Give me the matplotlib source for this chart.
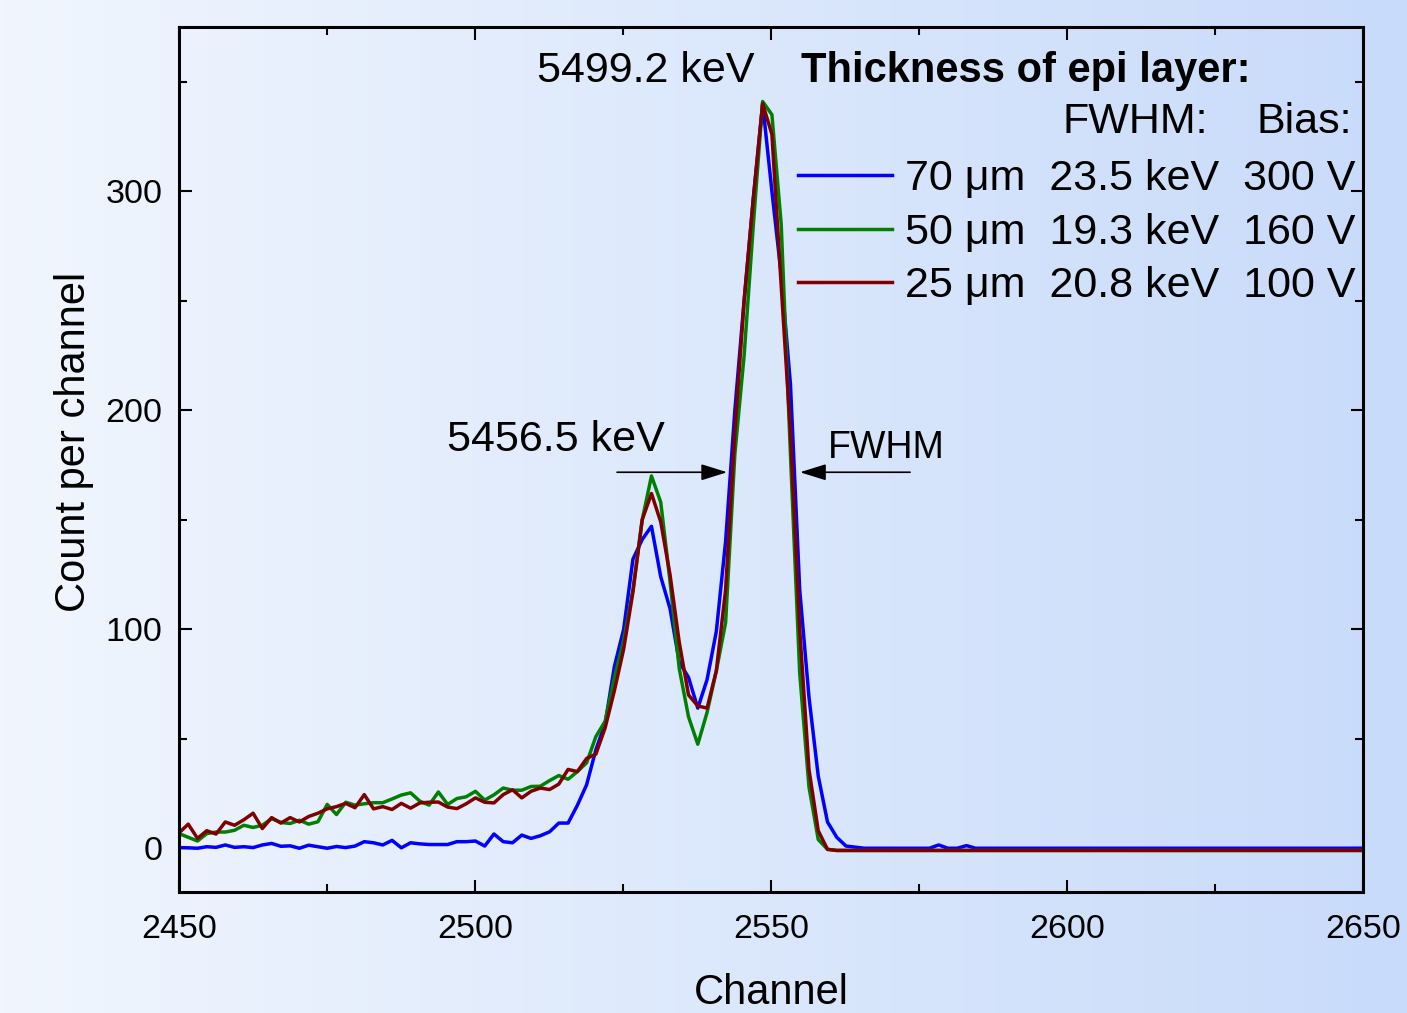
import numpy as np
import matplotlib
matplotlib.use("Agg")
import matplotlib.pyplot as plt
from matplotlib.ticker import MultipleLocator
from matplotlib.colors import LinearSegmentedColormap

plt.rcParams['font.family'] = ['Liberation Sans', 'DejaVu Sans']

# channel grid of the spectra
ch_start = 2450.0
ch_step = 1.565

# counts per channel
counts_70um = [
    0.3, 0.2, 0, 0.7, 0.4, 1.5, 0.4, 0.7, 0.3, 1.5,
    2.2, 0.9, 1.1, 0, 1.4, 0.7, 0, 0.8, 0.3, 1,
    3, 2.5, 1.5, 3.6, 0.2, 2.5, 2, 1.7, 1.7, 1.7,
    3, 3, 3.3, 1, 6.5, 3, 2.5, 6, 4.5, 5.7,
    7.5, 11.5, 11.5, 19.6, 29, 45, 57, 83, 100, 132,
    141, 147, 124, 109.5, 85, 78, 64, 77, 99, 140,
    200, 250, 297, 340, 300, 262, 212, 118, 69, 33,
    12, 5, 1, 0.5, 0, 0, 0, 0, 0, 0,
    0, 0, 1.5, 0, 0, 1.2, 0, 0, 0, 0,
    0, 0, 0, 0, 0, 0, 0, 0, 0, 0,
    0, 0, 0, 0, 0, 0, 0, 0, 0, 0,
    0, 0, 0, 0, 0, 0, 0, 0, 0, 0,
    0, 0, 0, 0, 0, 0, 0, 0, 0,
]
counts_50um = [
    6.7, 5, 3.3, 6.7, 7.4, 7.4, 8.2, 10.5, 9.5, 10.5,
    13.5, 11.8, 11.3, 12.8, 11, 12.1, 20, 15.4, 21, 19.7,
    20.3, 20.8, 20.8, 22.5, 24.3, 25.3, 21.5, 19.7, 25.7, 20,
    22.7, 23.5, 26, 22, 24.4, 27.5, 26.5, 26.5, 28.2, 28.3,
    30.9, 33.2, 31.5, 35, 39, 51, 58, 78, 95, 118,
    150, 170, 158, 122, 82, 60, 47.5, 62, 81, 103,
    180, 225, 285, 341, 335, 285, 180, 80, 28, 4,
    -0.5, -1, -1, -1, -1, -1, -1, -1, -1, -1,
    -1, -1, -1, -1, -1, -1, -1, -1, -1, -1,
    -1, -1, -1, -1, -1, -1, -1, -1, -1, -1,
    -1, -1, -1, -1, -1, -1, -1, -1, -1, -1,
    -1, -1, -1, -1, -1, -1, -1, -1, -1, -1,
    -1, -1, -1, -1, -1, -1, -1, -1, -1,
]
counts_25um = [
    7, 11, 4.5, 8, 6.5, 12, 10.5, 13, 16, 9,
    14, 11.5, 14, 12, 14.5, 16, 18, 19, 20.5, 18.5,
    24.5, 18, 19, 17.7, 20.5, 18.3, 20.7, 21, 21.1, 18.8,
    18.1, 20.3, 23, 21, 20.7, 24.5, 26.7, 23, 26, 27.5,
    26.8, 29.3, 36, 35, 41, 43, 55, 72, 91, 117,
    150, 162, 149, 125, 94, 70, 65, 64, 81, 118,
    190, 250, 297, 340, 326, 257, 190, 100, 36, 8,
    -0.5, -1, -1, -1, -1, -1, -1, -1, -1, -1,
    -1, -1, -1, -1, -1, -1, -1, -1, -1, -1,
    -1, -1, -1, -1, -1, -1, -1, -1, -1, -1,
    -1, -1, -1, -1, -1, -1, -1, -1, -1, -1,
    -1, -1, -1, -1, -1, -1, -1, -1, -1, -1,
    -1, -1, -1, -1, -1, -1, -1, -1, -1,
]

series = [counts_70um, counts_50um, counts_25um]
labels = ["70 \u03bcm  23.5 keV  300 V",
          "50 \u03bcm  19.3 keV  160 V",
          "25 \u03bcm  20.8 keV  100 V"]
colors = ["#0000ff", "#008000", "#800000"]

fig = plt.figure(figsize=(14.07, 10.13), dpi=100)

# gradient background
bg = fig.add_axes([0, 0, 1, 1])
grad = np.linspace(0, 1, 256).reshape(1, -1)
cmap = LinearSegmentedColormap.from_list("bg", ["#f1f6fe", "#c8dbfa"])
bg.imshow(grad, aspect='auto', cmap=cmap, extent=[0, 1, 0, 1])
bg.axis('off')

ax = fig.add_axes([0.1272, 0.1194, 0.8415, 0.8539])
ax.set_zorder(1)
ax.patch.set_visible(False)

for vals, c, lab in zip(series, colors, labels):
    ch = ch_start + ch_step * np.arange(len(vals))
    ax.plot(ch, vals, color=c, lw=2.5, label=lab)

ax.set_xlim(2450, 2650)
ax.set_ylim(-20, 375)
ax.xaxis.set_major_locator(MultipleLocator(50))
ax.xaxis.set_minor_locator(MultipleLocator(25))
ax.yaxis.set_major_locator(MultipleLocator(100))
ax.yaxis.set_minor_locator(MultipleLocator(50))
ax.tick_params(which='both', direction='in', top=True, right=True,
               labelsize=24.5, width=1.5)
ax.tick_params(which='major', length=9)
ax.tick_params(which='minor', length=5.5)
ax.tick_params(axis='x', pad=16)
ax.tick_params(axis='y', pad=12)
for sp in ax.spines.values():
    sp.set_linewidth(2.2)

ax.set_xlabel("Channel", fontsize=30, labelpad=20)
ax.set_ylabel("Count per channel", fontsize=30, labelpad=8)
ax.yaxis.label.set_y(0.52)

leg = ax.legend(loc='upper right', bbox_to_anchor=(0.994, 0.847),
                frameon=False, fontsize=31, handlelength=2.2,
                handletextpad=0.3, labelspacing=0.31, borderpad=0,
                borderaxespad=0)
for line in leg.get_lines():
    line.set_linewidth(2.5)

ax.text(2555, 355, "Thickness of epi layer:", fontsize=30,
        fontweight='bold', ha='left', va='center')
ax.text(2623.8, 331.5, "FWHM:", fontsize=31, ha='right', va='center')
ax.text(2648.1, 331.5, "Bias:", fontsize=31, ha='right', va='center')
ax.text(2547.3, 355, "5499.2 keV", fontsize=31, ha='right', va='center')
ax.text(2532.1, 186.3, "5456.5 keV", fontsize=31, ha='right', va='center')
ax.text(2559.6, 183, "FWHM", fontsize=27, ha='left', va='center')

arrow = dict(arrowstyle='-|>,head_length=0.8,head_width=0.25',
             color='black', lw=1.2, mutation_scale=20, shrinkA=0, shrinkB=0)
ax.annotate("", xy=(2542.6, 171.7), xytext=(2524.0, 171.7), arrowprops=arrow)
ax.annotate("", xy=(2554.9, 171.7), xytext=(2573.5, 171.7), arrowprops=arrow)

fig.savefig("out.png", dpi=100)
